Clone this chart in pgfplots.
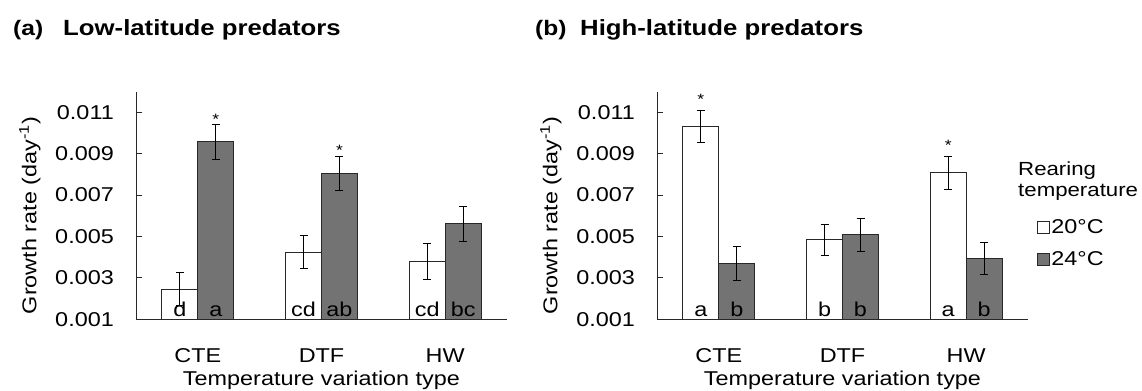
\documentclass[border=0pt]{standalone}
\usepackage{fontspec}
\setmainfont{Liberation Sans}[FakeStretch=1.17]
\usepackage{pgfplots}
\usepackage{pgfplotstable}
\pgfplotsset{compat=1.18}
\definecolor{bargray}{RGB}{115,115,115}
\definecolor{lin}{RGB}{40,40,40}

\pgfplotstableread{
x w we g ge
0 0.00245 0.00080 0.00957 0.00085
1 0.00424 0.00080 0.00805 0.00080
2 0.00382 0.00087 0.00561 0.00083
}\lowlat
\pgfplotstableread{
x w we g ge
0 0.01033 0.00078 0.00370 0.00080
1 0.00485 0.00075 0.00509 0.00079
2 0.00808 0.00080 0.00394 0.00078
}\highlat

\newcommand{\fs}{\fontsize{20bp}{23bp}\selectfont}
\tikzset{
 lett/.style={font=\fs, anchor=base, inner sep=0pt},
 star/.style={font=\fontsize{15bp}{15bp}\selectfont, anchor=base, inner sep=0pt},
}
\pgfplotsset{
 panel/.style={
  scale only axis, width=371bp, height=227.7bp,
  xmin=-0.5, xmax=2.5, ymin=0.001, ymax=0.012,
  axis x line=bottom, axis y line=left,
  axis line style={lin, line width=0.8bp, -},
  xtick={0,1,2}, xticklabels={CTE,DTF,HW},
  xtick style={draw=none},
  ytick={0.001,0.003,0.005,0.007,0.009,0.011},
  yticklabels={0.001,0.003,0.005,0.007,0.009,0.011},
  scaled y ticks=false,
  ytick style={lin, line width=0.8bp},
  tick align=inside, major tick length=6bp,
  ticklabel style={font=\fs},
  yticklabel style={inner sep=0pt, xshift=-22bp},
  xticklabel style={anchor=base, inner sep=0pt, yshift=-37.4bp},
  label style={font=\fs},
  xlabel={Temperature variation type},
  xlabel style={at={(axis description cs:0.5,0)}, anchor=base, inner sep=0pt, yshift=-65.7bp},
  ylabel={Growth rate (day\textsuperscript{-1})},
  ylabel style={at={(axis description cs:-0.286,0.456)}, anchor=center, inner sep=0pt},
  ybar, bar width=0.291,
  error bars/y dir=both, error bars/y explicit,
  error bars/error bar style={black, line width=0.8bp},
  error bars/error mark options={rotate=90, mark size=4bp, line width=0.8bp, black},
 },
 wbar/.style={draw=lin, fill=white, line width=0.8bp, bar shift=-0.1455},
 gbar/.style={draw=lin, fill=bargray, line width=0.8bp, bar shift=0.1455},
 sq legend/.style={legend image code/.code={\draw[##1, line width=0.8bp] (0bp,-6bp) rectangle (12bp,6bp);}},
}

\begin{document}
\begin{tikzpicture}
\path[use as bounding box] (0,0) rectangle (1142bp,391bp);

\node[anchor=base west, inner sep=0pt, font=\bfseries\fontsize{21bp}{23bp}\selectfont] at (13bp,355bp) {(a)};
\node[anchor=base west, inner sep=0pt, font=\bfseries\fontsize{22bp}{25bp}\selectfont] at (63bp,355bp) {Low-latitude predators};
\node[anchor=base west, inner sep=0pt, font=\bfseries\fontsize{21bp}{23bp}\selectfont] at (535bp,355bp) {(b)};
\node[anchor=base west, inner sep=0pt, font=\bfseries\fontsize{22bp}{25bp}\selectfont] at (580bp,355bp) {High-latitude predators};

\node[anchor=base west, inner sep=0pt, font=\fontsize{19bp}{22bp}\selectfont] at (1018bp,215bp) {Rearing};
\node[anchor=base west, inner sep=0pt, font=\fontsize{19bp}{22bp}\selectfont] at (1018bp,194bp) {temperature};

\begin{axis}[panel, at={(136bp,71.7bp)}, anchor=south west]
\addplot[wbar] table[x=x, y=w, y error=we] {\lowlat};
\addplot[gbar] table[x=x, y=g, y error=ge] {\lowlat};
\node[lett] at (axis cs:-0.1455,0.00115) {d};
\node[lett] at (axis cs:0.1455,0.00115) {a};
\node[lett] at (axis cs:0.8545,0.00115) {cd};
\node[lett] at (axis cs:1.1455,0.00115) {ab};
\node[lett] at (axis cs:1.8545,0.00115) {cd};
\node[lett] at (axis cs:2.1455,0.00115) {bc};
\node[star] at (axis cs:0.1455,0.01043) {*};
\node[star] at (axis cs:1.1455,0.00893) {*};
\end{axis}

\begin{axis}[panel, at={(657bp,71.7bp)}, anchor=south west,
  legend style={at={(axis description cs:1.024,0.333)}, anchor=west, draw=none, fill=none,
    inner sep=0pt, row sep=13bp, nodes={inner sep=1.5bp, font=\fs}},
  legend cell align=left]
\addplot[wbar, sq legend] table[x=x, y=w, y error=we] {\highlat};
\addlegendentry{20°C}
\addplot[gbar, sq legend] table[x=x, y=g, y error=ge] {\highlat};
\addlegendentry{24°C}
\node[lett] at (axis cs:-0.1455,0.00115) {a};
\node[lett] at (axis cs:0.1455,0.00115) {b};
\node[lett] at (axis cs:0.8545,0.00115) {b};
\node[lett] at (axis cs:1.1455,0.00115) {b};
\node[lett] at (axis cs:1.8545,0.00115) {a};
\node[lett] at (axis cs:2.1455,0.00115) {b};
\node[star] at (axis cs:-0.1455,0.01138) {*};
\node[star] at (axis cs:1.8545,0.00914) {*};
\end{axis}
\end{tikzpicture}
\end{document}
